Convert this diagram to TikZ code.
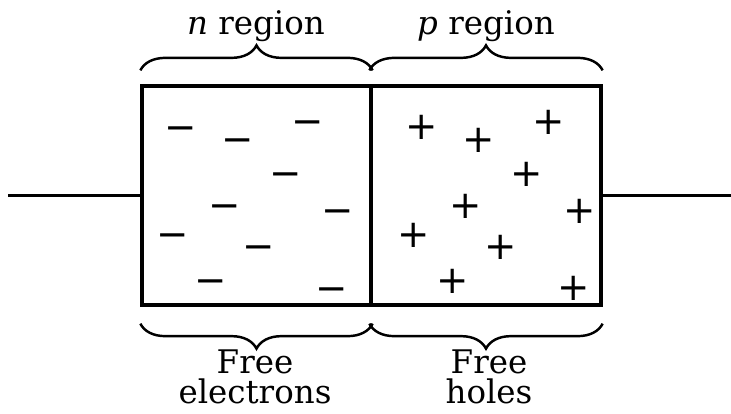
\documentclass[tikz,border=0pt]{standalone}
\usepackage{fontspec}
\setmainfont{DejaVu Serif}
\newfontfamily\sgnfont{DejaVu Sans}
\usetikzlibrary{decorations.pathreplacing}
\tikzset{
  region/.style={draw,line width=1.9pt,minimum width=#1,minimum height=4.38cm,inner sep=0pt},
  wire/.style={line width=1.5pt},
  brc/.style={decorate,decoration={brace,amplitude=0.5cm,raise=#1},line width=1.4pt},
  lbl/.style={font=\fontsize{18.5}{17.6}\selectfont,inner sep=0pt,align=center},
  chg/.style={font=\sgnfont\fontsize{22}{22}\selectfont,inner sep=0pt},
}

\begin{document}
\begin{tikzpicture}[x=0.02cm,y=-0.02cm]
  \useasboundingbox (0,0) rectangle (731,413);
  \node[region=4.58cm] (nreg) at (256.5,195.5) {};
  \node[region=4.6cm]  (preg) at (486,195.5) {};

  \coordinate (wl) at (8,195.5);
  \coordinate (wr) at (731,195.5);
  \draw[wire] (wl) -- (nreg.west);
  \draw[wire] (preg.east) -- (wr);

  % free electrons and holes
  \foreach \j/\x/\y in {1/181/127,2/238/139,3/308/121,4/286/173,5/225/205,6/338/210,7/173/234,8/259/246,9/211/280,10/332/288}
    \node[chg,yshift=-0.14cm] (e\j) at (\x,\y) {−};
  \foreach \j/\x/\y in {1/422/127,2/479/140,3/549/122,4/527/174,5/466/206,6/580/211,7/414/235,8/501/247,9/453/281,10/574/288}
    \node[chg] (h\j) at (\x,\y) {+};

  \draw[brc=0.28cm] (nreg.north west) -- (nreg.north east);
  \draw[brc=0.28cm] (preg.north west) -- (preg.north east);
  \draw[brc=0.34cm] (nreg.south east) -- (nreg.south west);
  \draw[brc=0.34cm] (preg.south east) -- (preg.south west);

  \node[lbl,anchor=base] (ntxt) at (256,34) {\textit{n} region};
  \node[lbl,anchor=base] (ptxt) at (486,34) {\textit{p} region};
  \node[lbl,anchor=north,text depth=0pt] (etxt) at (255,349) {Free\\electrons};
  \node[lbl,anchor=north,text depth=0pt] (htxt) at (489,349) {Free\\holes};
\end{tikzpicture}
\end{document}
